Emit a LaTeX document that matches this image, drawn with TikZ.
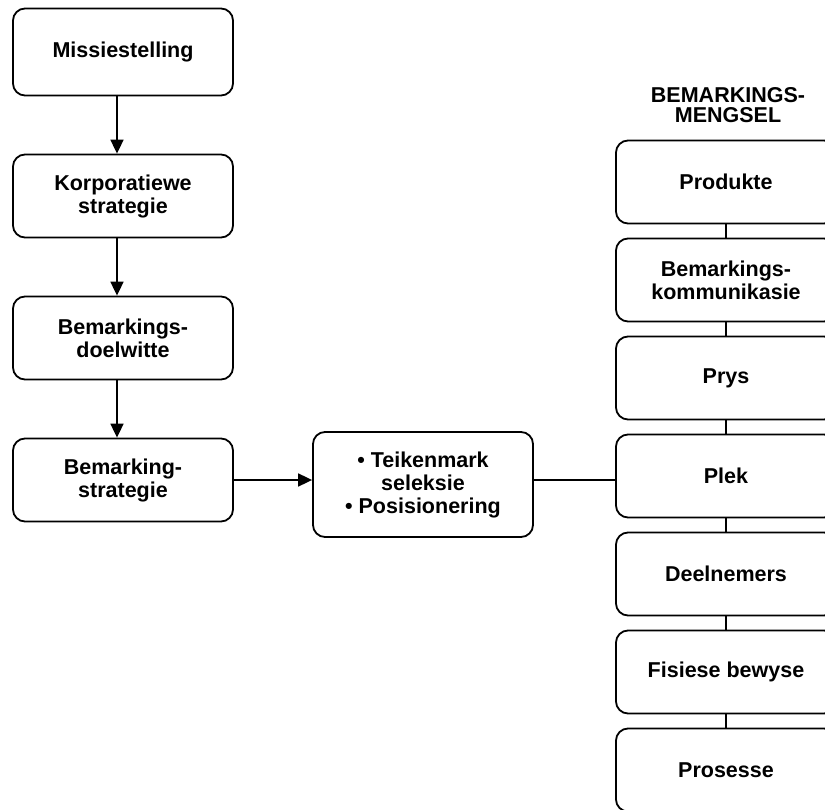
\documentclass[tikz,border=0pt]{standalone}
\usepackage{fontspec}
\setmainfont{Liberation Sans}
\usetikzlibrary{positioning,arrows.meta}

\begin{document}
\begin{tikzpicture}[x=1pt, y=-1pt, line width=1.8pt,
  every node/.style={font=\fontsize{21.5}{23}\selectfont\bfseries, align=center},
  box/.style={draw, rounded corners=12pt, minimum width=220pt, minimum height=83pt, inner sep=0pt},
  link/.style={-{Triangle[length=14pt,width=13pt]}}]
  \useasboundingbox (0,0) rectangle (825,810);

  % left column
  \node[box, minimum height=87pt] (mission) at (123,52) {Missiestelling};
  \node[box] (corp) at (123,196) {Korporatiewe\\strategie};
  \node[box] (objectives) at (123,338) {Bemarkings-\\doelwitte};
  \node[box] (strategy) at (123,480) {Bemarking-\\strategie};
  \draw[link] ([xshift=-6pt]mission.south) -- ([xshift=-6pt]corp.north);
  \draw[link] ([xshift=-6pt]corp.south) -- ([xshift=-6pt]objectives.north);
  \draw[link] ([xshift=-6pt]objectives.south) -- ([xshift=-6pt]strategy.north);

  % targeting
  \node[box, minimum height=105pt] (target) at (423,484.5)
    {\textbullet\ Teikenmark\\seleksie\\\textbullet\ Posisionering};
  \draw[link] (strategy.east) -- (target.west |- strategy.east);

  % marketing mix
  \node[font=\fontsize{21.5}{20}\selectfont\bfseries] (mixhead) at (728,105) {BEMARKINGS-\\MENGSEL};
  \foreach \name [count=\i] in {Produkte, {Bemarkings-\\kommunikasie}, Prys, Plek,
      Deelnemers, Fisiese bewyse, Prosesse} {
    \node[box] (mix\i) at (726, {182+(\i-1)*98}) {\name};
  }
  \foreach \i [remember=\i as \last (initially 1)] in {2,...,7}
    \draw (mix\last.south) -- (mix\i.north);
  \draw (target.east |- strategy.east) -- (mix4.west |- strategy.east);
\end{tikzpicture}
\end{document}
